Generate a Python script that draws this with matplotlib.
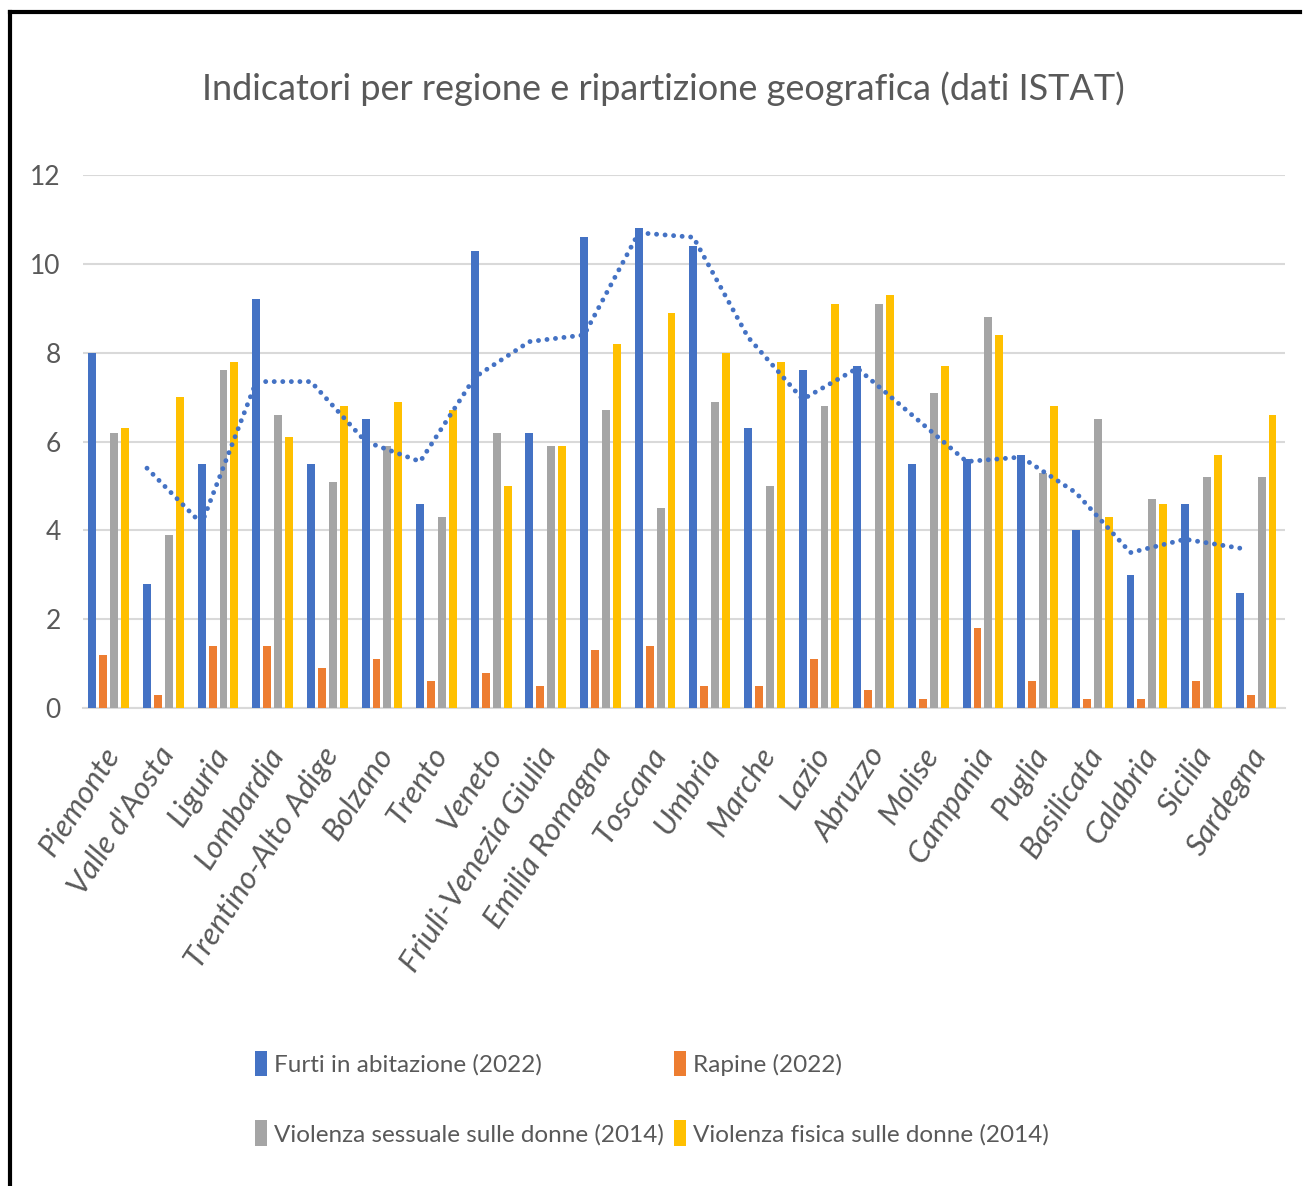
import matplotlib
matplotlib.use("Agg")
import matplotlib.pyplot as plt
import numpy as np
from matplotlib.lines import Line2D
from matplotlib.patches import Patch

regions = ["Piemonte", "Valle d'Aosta", "Liguria", "Lombardia", "Trentino-Alto Adige",
           "Bolzano", "Trento", "Veneto", "Friuli-Venezia Giulia", "Emilia Romagna",
           "Toscana", "Umbria", "Marche", "Lazio", "Abruzzo", "Molise", "Campania",
           "Puglia", "Basilicata", "Calabria", "Sicilia", "Sardegna"]

furti = [8.0, 2.8, 5.5, 9.2, 5.5, 6.5, 4.6, 10.3, 6.2, 10.6, 10.8, 10.4, 6.3, 7.6,
         7.7, 5.5, 5.6, 5.7, 4.0, 3.0, 4.6, 2.6]
rapine = [1.2, 0.3, 1.4, 1.4, 0.9, 1.1, 0.6, 0.8, 0.5, 1.3, 1.4, 0.5, 0.5, 1.1,
          0.4, 0.2, 1.8, 0.6, 0.2, 0.2, 0.6, 0.3]
sessuale = [6.2, 3.9, 7.6, 6.6, 5.1, 5.9, 4.3, 6.2, 5.9, 6.7, 4.5, 6.9, 5.0, 6.8,
            9.1, 7.1, 8.8, 5.3, 6.5, 4.7, 5.2, 5.2]
fisica = [6.3, 7.0, 7.8, 6.1, 6.8, 6.9, 6.7, 5.0, 5.9, 8.2, 8.9, 8.0, 7.8, 9.1,
          9.3, 7.7, 8.4, 6.8, 4.3, 4.6, 5.7, 6.6]
# moving-average trendline of Furti, starts at the 2nd region
trend = [np.nan, 5.4, 4.15, 7.35, 7.35, 6.0, 5.55, 7.45, 8.25, 8.4, 10.7, 10.6,
         8.35, 6.95, 7.65, 6.6, 5.55, 5.65, 4.85, 3.5, 3.8, 3.6]

series_names = ["Furti in abitazione (2022)", "Rapine (2022)",
                "Violenza sessuale sulle donne (2014)", "Violenza fisica sulle donne (2014)"]
colors = ["#4472C4", "#ED7D31", "#A5A5A5", "#FFC000"]
yticks = [0, 2, 4, 6, 8, 10, 12]

FONT = ['Lato', 'DejaVu Sans']
TXT = "#595959"

fig = plt.figure(figsize=(13.06, 11.86), dpi=100)
ax = fig.add_axes([0.0636, 0.403, 0.9204, 0.4494])

x = np.arange(len(regions))
w = 0.145
offsets = [-0.33, -0.13, 0.07, 0.27]
for vals, off, c in zip([furti, rapine, sessuale, fisica], offsets, colors):
    ax.bar(x + off, vals, width=w, color=c, zorder=3)

ax.plot(x + offsets[0], trend, linestyle=(0, (0.01, 1.75)), dash_capstyle='round',
        color="#4472C4", linewidth=3.5, zorder=4)

ax.set_xlim(-0.5, len(regions) - 0.5)
ax.set_ylim(0, 12)
ax.set_yticks(yticks)
ax.set_yticklabels([str(v) for v in yticks], fontsize=19, color=TXT, family=FONT)
ax.tick_params(axis='y', length=0, pad=16)
ax.tick_params(axis='x', length=0)
ax.grid(axis='y', color="#D9D9D9", linewidth=1.5, zorder=0)
for s in ['top', 'right', 'left']:
    ax.spines[s].set_visible(False)
ax.spines['bottom'].set_color("#D9D9D9")
ax.spines['bottom'].set_linewidth(1.5)

ax.set_xticks(x)
ax.set_xticklabels([])
for xi, lab in zip(x, regions):
    ax.annotate(lab, xy=(xi + 0.05, 0), xycoords=('data', 'axes fraction'),
                xytext=(0, -30), textcoords='offset points',
                rotation=57, rotation_mode='anchor', ha='right', va='center',
                fontsize=22.5, color=TXT, family=FONT, style='italic')

fig.text(0.508, 0.925, "Indicatori per regione e ripartizione geografica (dati ISTAT)",
         ha='center', va='center', fontsize=26, color=TXT, family=FONT)

order = [0, 2, 1, 3]
handles = [Patch(facecolor=colors[i], edgecolor='none') for i in order]
labels = [series_names[i] for i in order]
leg = fig.legend(handles, labels, loc='center', bbox_to_anchor=(0.499, 0.074),
                 ncol=2, frameon=False, prop={'family': FONT, 'size': 17.5},
                 handlelength=0.5, handleheight=1.25, handletextpad=0.3,
                 columnspacing=0.4, labelspacing=1.8)
for t in leg.get_texts():
    t.set_color(TXT)

# outer border (left and top edges)
fig.add_artist(Line2D([10/1306, 10/1306], [0, 1 - 12/1186], transform=fig.transFigure,
                      color='black', linewidth=3))
fig.add_artist(Line2D([10/1306, 1300/1306], [1 - 12/1186, 1 - 12/1186],
                      transform=fig.transFigure, color='black', linewidth=3))

fig.savefig("out.png", dpi=100, facecolor='white')
